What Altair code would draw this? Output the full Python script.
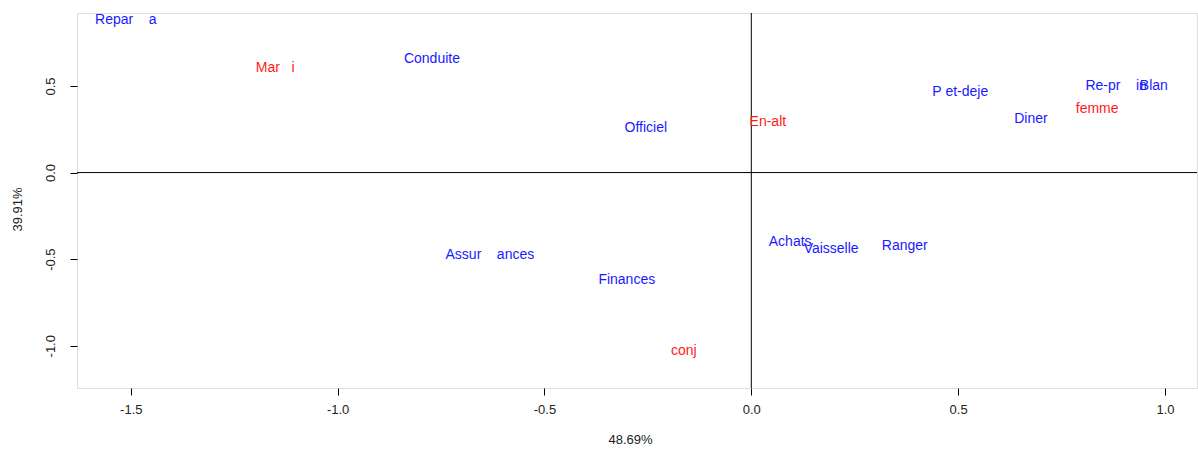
import altair as alt
import pandas as pd

# Correspondence analysis map: task rows (blue) and household columns (red)
NB = "\u00a0"  # keep the wide gaps inside labels from collapsing
row_labels = ["Repar" + NB * 4 + "a", "Conduite", "Officiel", "P" + NB + "et-deje", "Diner",
              "Re-pr" + NB * 4 + "in", "Blan", "Achats", "Vaisselle", "Ranger",
              "Assur" + NB * 4 + "ances", "Finances"]
row_dim1 = [-1.512, -0.772, -0.255, 0.505, 0.676, 0.882, 0.973,
            0.094, 0.193, 0.371, -0.632, -0.301]
row_dim2 = [0.881, 0.656, 0.258, 0.466, 0.310, 0.500, 0.500,
            -0.400, -0.440, -0.423, -0.475, -0.620]

col_labels = ["Mar" + NB * 3 + "i", "En-alt", "femme", "conj"]
col_dim1 = [-1.151, 0.040, 0.836, -0.163]
col_dim2 = [0.604, 0.293, 0.368, -1.029]

x_title = "48.69%"
y_title = "39.91%"
x_ticks = [-1.5, -1.0, -0.5, 0.0, 0.5, 1.0]
y_ticks = [-1.0, -0.5, 0.0, 0.5]

df = pd.concat([
    pd.DataFrame({"label": row_labels, "d1": row_dim1, "d2": row_dim2, "kind": "row"}),
    pd.DataFrame({"label": col_labels, "d1": col_dim1, "d2": col_dim2, "kind": "col"}),
], ignore_index=True)

FONT = "Liberation Sans"
# plain hyphen for negative tick values
TICK_EXPR = "datum.value < 0 ? '-' + format(abs(datum.value), '.1f') : format(datum.value, '.1f')"

x_enc = alt.X("d1:Q", scale=alt.Scale(domain=[-1.630, 1.0774], nice=False, zero=False),
              axis=alt.Axis(values=x_ticks, labelExpr=TICK_EXPR, grid=False, domain=False,
                            tickColor="black", tickSize=7, labelFontSize=13,
                            labelColor="#222", labelPadding=8, labelFont=FONT,
                            title=x_title, titleFont=FONT, titleFontSize=13,
                            titleFontWeight="normal", titleColor="#222",
                            titlePadding=17, titleX=553))
y_enc = alt.Y("d2:Q", scale=alt.Scale(domain=[-1.2441, 0.9215], nice=False, zero=False),
              axis=alt.Axis(values=y_ticks, labelExpr=TICK_EXPR, grid=False, domain=False,
                            tickColor="black", tickSize=7, labelFontSize=13,
                            labelColor="#222", labelPadding=13, labelAngle=270,
                            labelFont=FONT,
                            title=y_title, titleFont=FONT, titleFontSize=13,
                            titleFontWeight="normal", titleColor="#222",
                            titlePadding=20, titleY=196))

labels = alt.Chart(df).mark_text(font=FONT, fontSize=14, align="center",
                                 baseline="middle").encode(
    x=x_enc, y=y_enc, text="label:N",
    color=alt.Color("kind:N", scale=alt.Scale(domain=["row", "col"],
                                              range=["#1a1aff", "#ff1a1a"]),
                    legend=None),
)

zero_df = pd.DataFrame({"z": [0.0]})
vline = alt.Chart(zero_df).mark_rule(color="black", strokeWidth=1).encode(x="z:Q")
hline = alt.Chart(zero_df).mark_rule(color="black", strokeWidth=1).encode(y="z:Q")

chart = alt.layer(vline, hline, labels).properties(
    width=1120, height=375,
    padding={"left": 77, "top": 13, "right": 1, "bottom": 61},
    autosize=alt.AutoSizeParams(type="none"),
).configure_view(stroke="black", strokeWidth=1.5).configure(background="white")

chart.save("out.html", embed_options={"renderer": "svg", "actions": False})
